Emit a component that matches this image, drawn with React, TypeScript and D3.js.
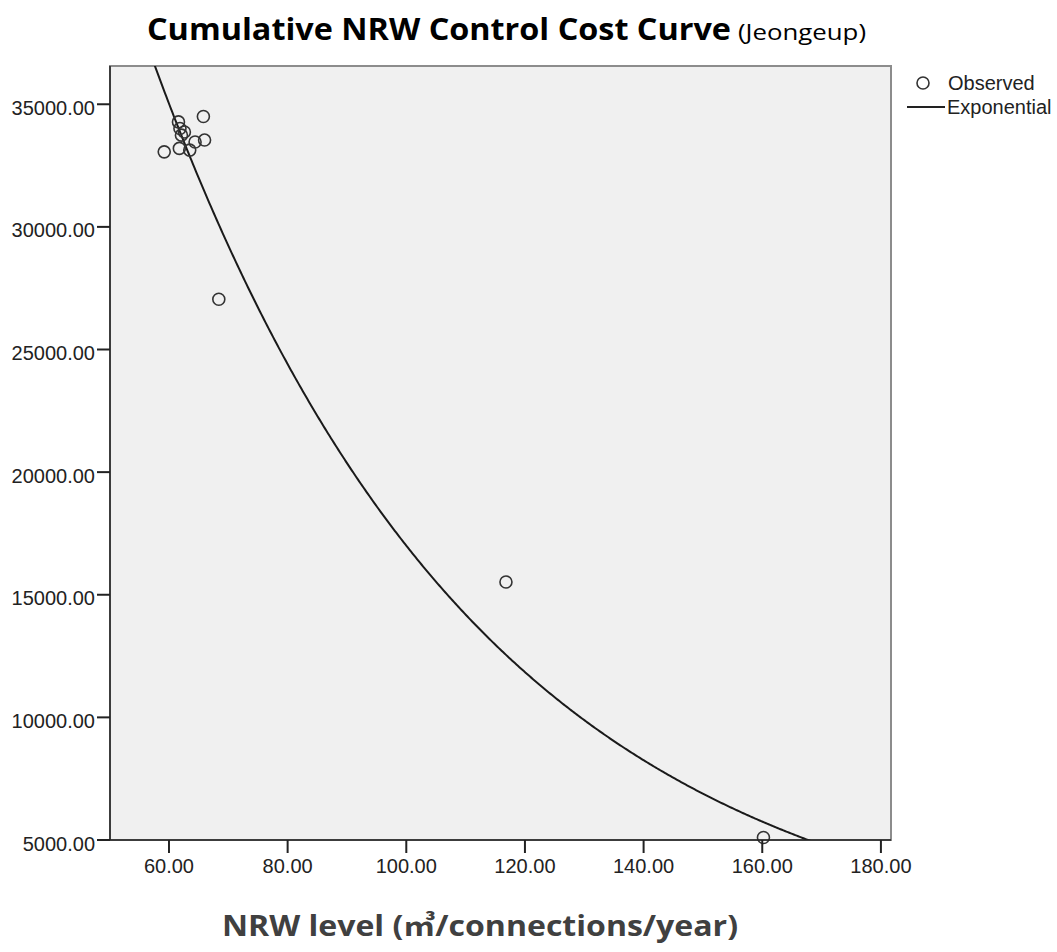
import React from "react";
import * as d3 from "d3";

// Observed points (NRW level, cumulative cost)
const nrwLevel = [59.2, 65.8, 61.6, 61.85, 62.1, 62.6, 61.75, 63.5, 64.4, 66.0, 68.4, 116.8, 160.2];
const cumCost = [33060, 34500, 34280, 34010, 33740, 33870, 33200, 33130, 33460, 33540, 27050, 15520, 5100];

// Exponential fit y = A * exp(B * x)
const fitA = 103580;
const fitB = -0.01807;

const xTicks = [60, 80, 100, 120, 140, 160, 180];
const yTicks = [5000, 10000, 15000, 20000, 25000, 30000, 35000];

const W = 1057;
const H = 952;
const plot = { left: 110, right: 891, top: 66, bottom: 840 };

export default function App() {
  const x = d3.scaleLinear().domain([50.06, 181.7]).range([plot.left, plot.right]);
  const y = d3.scaleLinear().domain([5000, 36560]).range([plot.bottom, plot.top]);

  const [x0, x1] = x.domain();
  const curveX = d3.range(x0, x1 + 0.001, 0.25);
  const line = d3
    .line<number>()
    .x((d) => x(d))
    .y((d) => y(fitA * Math.exp(fitB * d)));

  const tickFont = "'Liberation Sans', Arial, sans-serif";
  const headFont = "'Open Sans', 'Noto Sans CJK KR', sans-serif";

  return (
    <svg width={W} height={H} style={{ position: "absolute", left: 0, top: 0, background: "#fff" }}>
      <defs>
        <clipPath id="plotClip">
          <rect x={plot.left} y={plot.top} width={plot.right - plot.left} height={plot.bottom - plot.top} />
        </clipPath>
      </defs>
      <rect width={W} height={H} fill="#fff" />
      {/* Title */}
      <text x={147} y={40} fontFamily={headFont} fill="#000" fontWeight="bold" fontSize={30}
        textLength={584} lengthAdjust="spacingAndGlyphs">
        Cumulative NRW Control Cost Curve
      </text>
      <text x={738} y={40} fontFamily={headFont} fill="#000" fontSize={22}
        textLength={128} lengthAdjust="spacingAndGlyphs">
        (Jeongeup)
      </text>

      {/* Plot background */}
      <rect
        x={plot.left}
        y={plot.top}
        width={plot.right - plot.left}
        height={plot.bottom - plot.top}
        fill="#f0f0f0"
        stroke="#8c8c8c"
        strokeWidth={2}
      />

      {/* Curve */}
      <g clipPath="url(#plotClip)">
        <path d={line(curveX) || ""} fill="none" stroke="#1a1a1a" strokeWidth={2} />
      </g>

      {/* Points */}
      <g>
        {nrwLevel.map((v, i) => (
          <circle key={i} cx={x(v)} cy={y(cumCost[i])} r={6} fill="none" stroke="#333" strokeWidth={1.6} />
        ))}
      </g>

      {/* Axes lines */}
      <line x1={plot.left} x2={plot.left} y1={plot.top} y2={plot.bottom} stroke="#222" strokeWidth={1.5} />
      <line x1={plot.left} x2={plot.right} y1={plot.bottom} y2={plot.bottom} stroke="#222" strokeWidth={1.5} />

      {/* Y ticks */}
      {yTicks.map((t) => (
        <g key={t}>
          <line x1={97} x2={plot.left} y1={y(t)} y2={y(t)} stroke="#222" strokeWidth={2} />
          <text x={95} y={y(t) + 10.5} textAnchor="end" fontFamily={tickFont} fontSize={20} fill="#222">
            {d3.format(".2f")(t)}
          </text>
        </g>
      ))}

      {/* X ticks */}
      {xTicks.map((t) => (
        <g key={t}>
          <line x1={x(t)} x2={x(t)} y1={plot.bottom} y2={853} stroke="#222" strokeWidth={2} />
          <text x={x(t)} y={873} textAnchor="middle" fontFamily={tickFont} fontSize={20} fill="#222">
            {d3.format(".2f")(t)}
          </text>
        </g>
      ))}

      {/* Legend */}
      <circle cx={923} cy={83} r={6} fill="none" stroke="#333" strokeWidth={1.6} />
      <text x={948} y={90} fontFamily={tickFont} fontSize={20} fill="#222">Observed</text>
      <line x1={907} x2={945} y1={107} y2={107} stroke="#222" strokeWidth={2} />
      <text x={947} y={114} fontFamily={tickFont} fontSize={20} fill="#222">Exponential</text>

      {/* X axis label */}
      <text
        x={222}
        y={936}
        fontFamily={headFont}
        fontWeight="bold"
        fontSize={28}
        fill="#404040"
        textLength={516}
        lengthAdjust="spacingAndGlyphs"
      >
        NRW level (㎥/connections/year)
      </text>
    </svg>
  );
}
